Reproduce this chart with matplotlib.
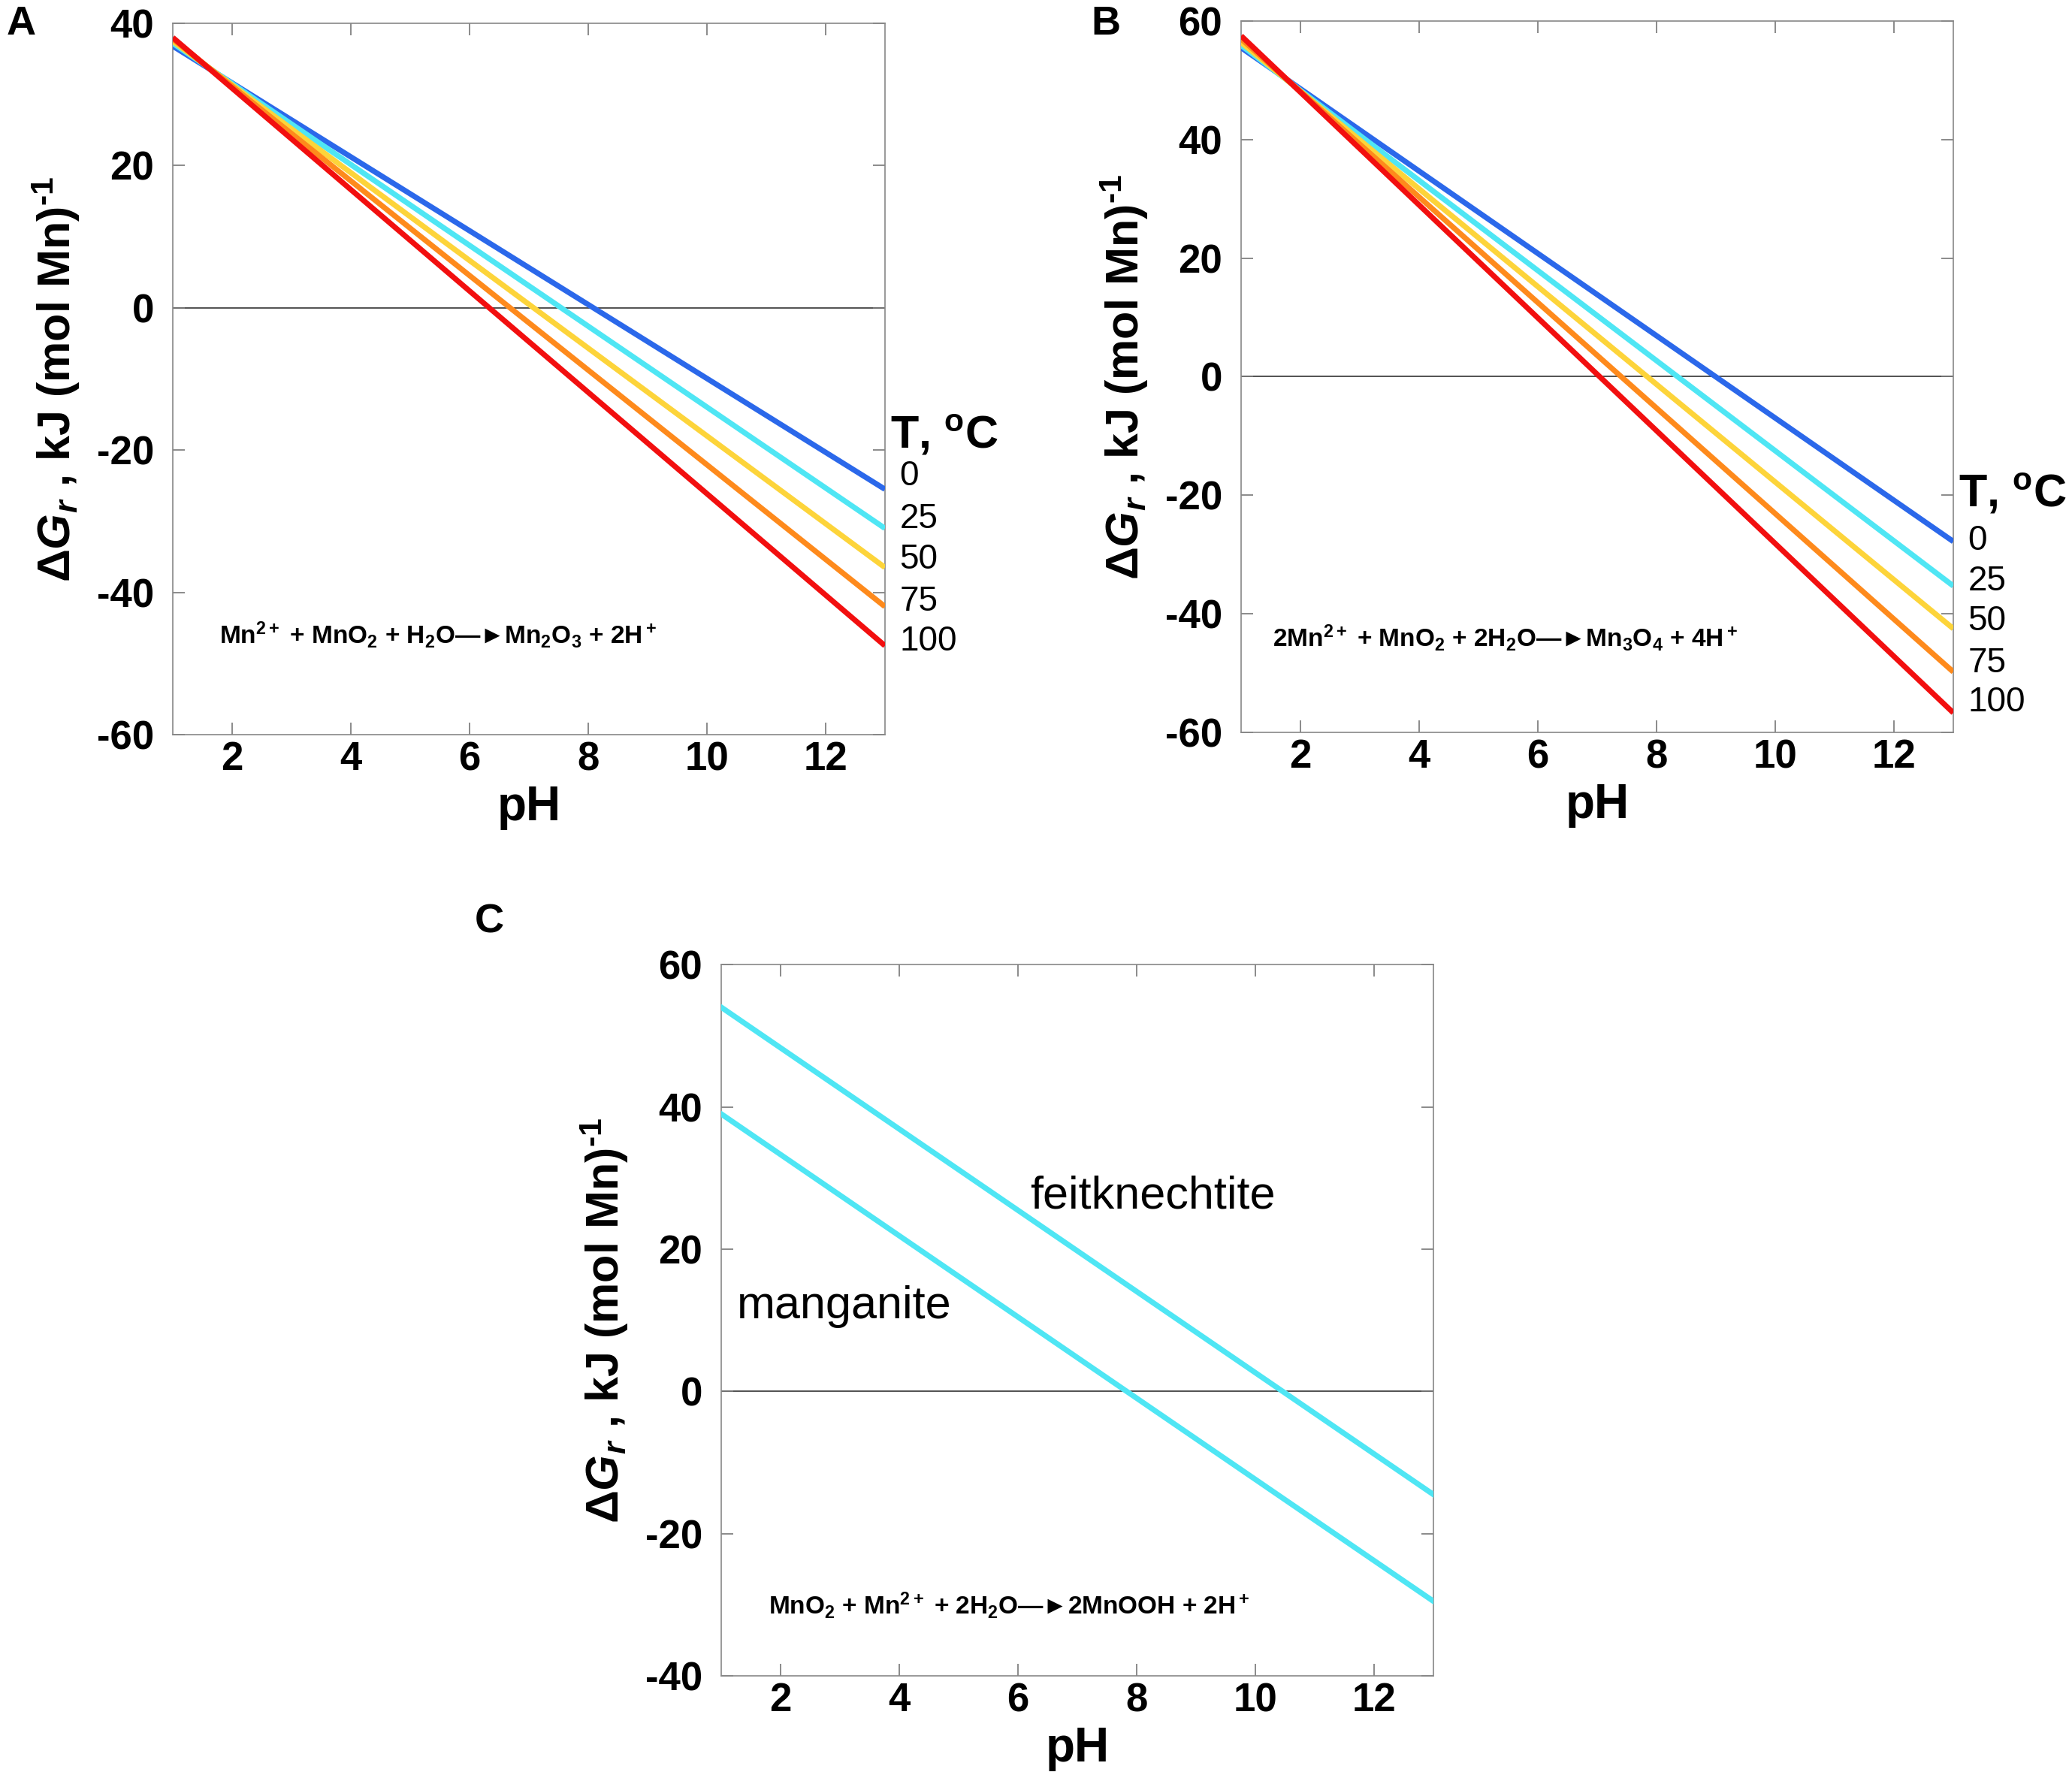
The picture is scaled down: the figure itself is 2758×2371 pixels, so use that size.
import matplotlib
matplotlib.use('Agg')
import matplotlib.pyplot as plt

plt.rcParams['axes.unicode_minus'] = False
plt.rcParams['mathtext.fontset'] = 'custom'
plt.rcParams['mathtext.rm'] = 'Liberation Sans:bold'
plt.rcParams['mathtext.bf'] = 'Liberation Sans:bold'
plt.rcParams['mathtext.it'] = 'Liberation Sans:italic:bold'
plt.rcParams['mathtext.bfit'] = 'Liberation Sans:italic:bold'

# data: dG at pH 1 and pH 13
ph_ends = [1, 13]
temps = ['0', '25', '50', '75', '100']
colors_T = ['#2b68ea', '#4fe6f4', '#fdd43a', '#fe8a1c', '#f20f0f']

a_start = [36.8, 37.2, 37.5, 37.8, 38.0]
a_end = [-25.5, -31.0, -36.5, -42.0, -47.5]

b_start = [55.5, 55.9, 56.4, 57.0, 57.5]
b_end = [-27.8, -35.3, -42.5, -49.8, -56.7]

c_names = ['feitknechtite', 'manganite']
c_start = [54.0, 39.0]
c_end = [-14.5, -29.5]

# where the temperature labels sit (data y) on the right side
a_lab_y = [-23.7, -29.7, -35.4, -41.3, -46.9]
b_lab_y = [-27.7, -34.5, -41.3, -48.4, -55.0]

ylab = r'$\Delta\mathbfit{G}_{\mathbfit{r}}$ , kJ (mol Mn)$^{\text{-1}}$'
lab_font = ['Liberation Sans', 'DejaVu Sans']


def style_ax(ax, ylim, yticks):
    ax.set_xlim(1, 13)
    ax.set_ylim(*ylim)
    ax.set_xticks([2, 4, 6, 8, 10, 12])
    ax.set_yticks(yticks)
    ax.tick_params(direction='in', top=True, right=True, length=11.5, width=1.2,
                   color='#777777')
    ax.tick_params(axis='y', pad=18)
    ax.tick_params(axis='x', pad=6)
    for lab in ax.get_xticklabels() + ax.get_yticklabels():
        lab.set_family(lab_font)
        lab.set_fontweight('bold')
        lab.set_fontsize(38)
    for s in ax.spines.values():
        s.set_color('#888888')
        s.set_linewidth(1.2)
    ax.axhline(0, color='#333333', lw=1.2, zorder=1)
    ax.set_xlabel('pH', family=lab_font, fontweight='bold', fontsize=46, labelpad=6)
    ax.set_ylabel(ylab, family=lab_font, fontweight='bold', fontsize=44, labelpad=14)


def temp_panel(ax, starts, ends, lab_y, t_y, eq, eq_pos):
    for i in range(len(temps)):
        ax.plot(ph_ends, [starts[i], ends[i]], color=colors_T[i], lw=5.2, zorder=3,
                solid_capstyle='butt')
    # temperature labels to the right
    for i in range(len(temps)):
        ax.annotate(temps[i], xy=(13, lab_y[i]), xytext=(14, 0),
                    textcoords='offset points', va='center', ha='left',
                    family=lab_font, fontsize=33, annotation_clip=False)
    ax.annotate(r'T, $^{\mathbf{o}}$C', xy=(13, t_y), xytext=(5, 0),
                textcoords='offset points', va='center', ha='left',
                family=lab_font, fontweight='bold', fontsize=44,
                annotation_clip=False)
    ax.text(eq_pos[0], eq_pos[1], eq, family=lab_font,
            fontweight='bold', fontsize=24, va='center', ha='left')


fig = plt.figure(figsize=(27.58, 23.71), dpi=100)

axA = fig.add_axes([0.0834, 0.5875, 0.3437, 0.3994])
style_ax(axA, (-60, 40), [-60, -40, -20, 0, 20, 40])
temp_panel(axA, a_start, a_end, a_lab_y, -18.0,
           'Mn$^{2+}$ + MnO$_2$ + H$_2$O\u2014\u25baMn$_2$O$_3$ + 2H$^+$',
           (1.79, -46.0))

axB = fig.add_axes([0.599, 0.5888, 0.3437, 0.3994])
style_ax(axB, (-60, 60), [-60, -40, -20, 0, 20, 40, 60])
temp_panel(axB, b_start, b_end, b_lab_y, -19.9,
           '2Mn$^{2+}$ + MnO$_2$ + 2H$_2$O\u2014\u25baMn$_3$O$_4$ + 4H$^+$',
           (1.53, -44.0))

axC = fig.add_axes([0.3481, 0.059, 0.3437, 0.3994])
style_ax(axC, (-40, 60), [-40, -20, 0, 20, 40, 60])
for i in range(len(c_names)):
    axC.plot(ph_ends, [c_start[i], c_end[i]], color='#4fe6f4', lw=5.2, zorder=3)
axC.text(6.2, 27.4, 'feitknechtite', family=lab_font, fontsize=44, va='center')
axC.text(1.27, 11.9, 'manganite', family=lab_font, fontsize=44, va='center')
axC.text(1.80, -30.1, 'MnO$_2$ + Mn$^{2+}$ + 2H$_2$O\u2014\u25ba2MnOOH + 2H$^+$',
         family=lab_font, fontweight='bold',
         fontsize=24, va='center', ha='left')

fig.text(0.003, 0.997, 'A', family=lab_font, fontweight='bold', fontsize=39, va='top')
fig.text(0.5265, 0.997, 'B', family=lab_font, fontweight='bold', fontsize=39, va='top')
fig.text(0.229, 0.493, 'C', family=lab_font, fontweight='bold', fontsize=39, va='top')

fig.savefig('out.png', dpi=100, facecolor='white')
